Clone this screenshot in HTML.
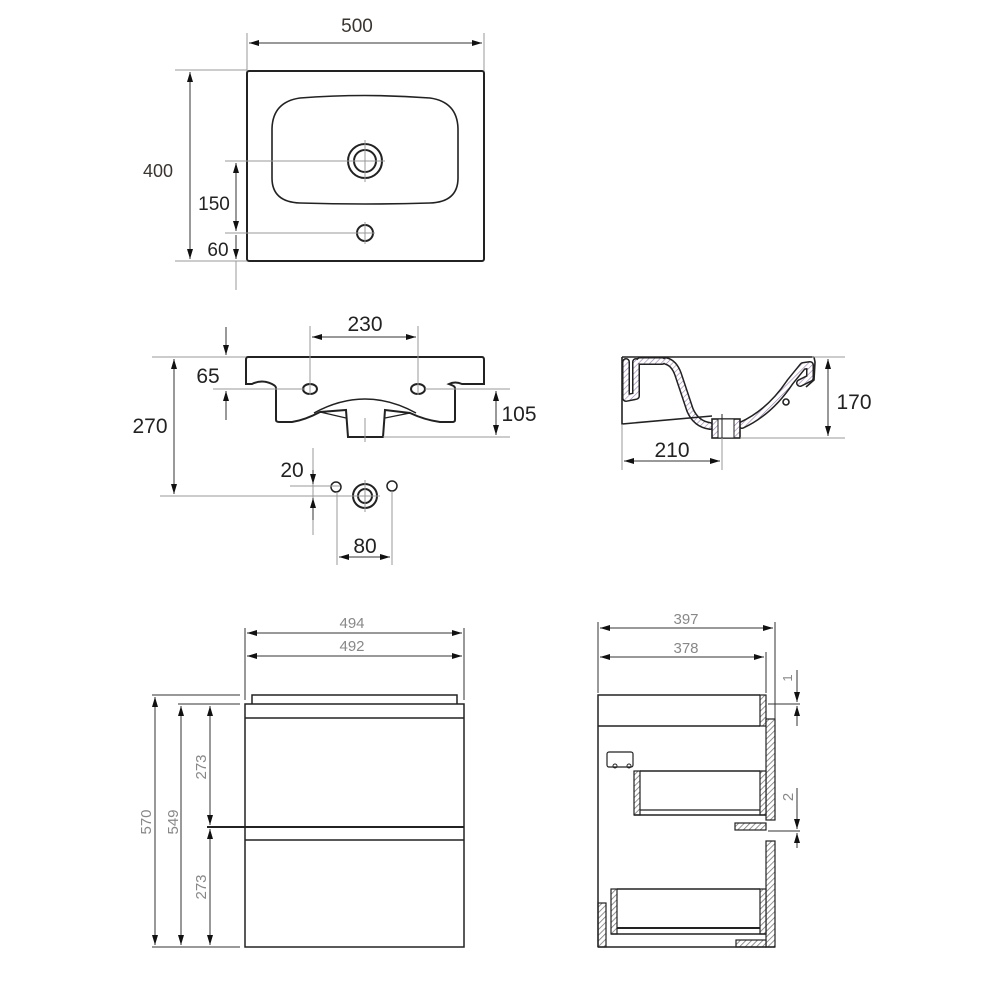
<!DOCTYPE html>
<html><head><meta charset="utf-8"><style>html,body{margin:0;padding:0;background:#fff}svg{display:block}</style></head>
<body>
<svg width="1000" height="1000" viewBox="0 0 1000 1000" xmlns="http://www.w3.org/2000/svg" font-family="Liberation Sans, sans-serif">
<defs>
<marker id="a" viewBox="0 0 10 6" refX="10" refY="3" markerWidth="10" markerHeight="6" orient="auto-start-reverse" markerUnits="userSpaceOnUse"><path d="M0,0L10,3L0,6z" fill="#111"/></marker>
<pattern id="h" width="4" height="4" patternUnits="userSpaceOnUse" patternTransform="rotate(45)"><rect width="4" height="4" fill="#fff"/><line x1="0" y1="0" x2="0" y2="4" stroke="#777" stroke-width="1.6"/></pattern>
<pattern id="hp" width="4" height="4" patternUnits="userSpaceOnUse" patternTransform="rotate(45)"><rect width="4" height="4" fill="#fff"/><line x1="0" y1="0" x2="0" y2="4" stroke="#9a80ae" stroke-width="1.3"/></pattern>
</defs>

<!-- TOP VIEW -->
<g fill="none" stroke="#222" stroke-width="2">
<rect x="247" y="71" width="237" height="190" rx="2"/>
<path d="M300,98 Q365,93 430,98 Q458,102 458,130 L458,178 Q458,202 430,203 Q365,205 300,203 Q272,202 272,178 L272,130 Q272,102 300,98Z" stroke-width="1.6"/>
<circle cx="365" cy="161" r="17"/><circle cx="365" cy="161" r="11"/>
<circle cx="365" cy="233" r="8"/>
</g>
<g stroke="#999" stroke-width="1" fill="none">
<line x1="247" y1="33" x2="247" y2="71"/><line x1="484" y1="33" x2="484" y2="71"/>
<line x1="175" y1="70" x2="247" y2="70"/><line x1="175" y1="261" x2="247" y2="261"/>
<line x1="225" y1="161" x2="385" y2="161"/><line x1="225" y1="233" x2="375" y2="233"/>
<line x1="365" y1="140" x2="365" y2="182"/><line x1="365" y1="222" x2="365" y2="244"/>
<line x1="236" y1="261" x2="236" y2="290"/>
</g>
<g stroke="#333" stroke-width="1">
<line x1="249" y1="43" x2="482" y2="43" marker-start="url(#a)" marker-end="url(#a)"/>
<line x1="190" y1="72" x2="190" y2="259" marker-start="url(#a)" marker-end="url(#a)"/>
<line x1="236" y1="163" x2="236" y2="231" marker-start="url(#a)" marker-end="url(#a)"/>
<line x1="236" y1="235" x2="236" y2="259" marker-end="url(#a)"/>
</g>
<g font-size="19" fill="#222">
<text x="357" y="32" text-anchor="middle" fill="#3a3530">500</text>
<text x="158" y="177" text-anchor="middle" fill="#3a3530" font-size="18">400</text>
<text x="214" y="210" text-anchor="middle">150</text>
<text x="218" y="256" text-anchor="middle">60</text>
</g>

<!-- FRONT VIEW -->
<g fill="none" stroke="#222" stroke-width="2">
<path d="M248,357 L482,357 Q484,357 484,360 L484,384 L462,384 Q455,381 449,384 Q455,386 455,388 L455,420 Q455,422 452,422 L440,422 Q425,420 410,413 L385,410 L383,437 L348,437 L346,410 L320,412 Q305,420 292,422 L280,422 Q276,422 276,420 L276,388 Q276,386 272,384 Q262,379 252,384 L246,384 L246,360 Q246,357 248,357Z"/>
<path d="M314,413 Q365,385 416,413" stroke-width="1.5"/>
<path d="M320,412 L346,418 M410,413 L385,418" stroke-width="1.2"/>
<ellipse cx="310" cy="389" rx="7" ry="5"/><ellipse cx="418" cy="389" rx="7" ry="5"/>
<circle cx="336" cy="487" r="5" stroke-width="1.5"/><circle cx="392" cy="486" r="5" stroke-width="1.5"/>
<circle cx="365" cy="496" r="12"/><circle cx="365" cy="496" r="7"/>
</g>
<g stroke="#999" stroke-width="1">
<line x1="310" y1="326" x2="310" y2="395"/><line x1="418" y1="326" x2="418" y2="395"/>
<line x1="152" y1="357" x2="246" y2="357"/><line x1="213" y1="389" x2="305" y2="389"/>
<line x1="425" y1="389" x2="510" y2="389"/><line x1="383" y1="437" x2="510" y2="437"/>
<line x1="365" y1="418" x2="365" y2="442"/>
<line x1="160" y1="496" x2="380" y2="496"/><line x1="290" y1="486" x2="340" y2="486"/>
<line x1="313" y1="448" x2="313" y2="535"/>
<line x1="337" y1="492" x2="337" y2="565"/><line x1="392" y1="491" x2="392" y2="565"/>
<line x1="365" y1="480" x2="365" y2="512"/>
</g>
<g stroke="#333" stroke-width="1">
<line x1="312" y1="337" x2="416" y2="337" marker-start="url(#a)" marker-end="url(#a)"/>
<line x1="226" y1="327" x2="226" y2="355" marker-end="url(#a)"/>
<line x1="226" y1="420" x2="226" y2="391" marker-end="url(#a)"/>
<line x1="174" y1="359" x2="174" y2="494" marker-start="url(#a)" marker-end="url(#a)"/>
<line x1="496" y1="391" x2="496" y2="435" marker-start="url(#a)" marker-end="url(#a)"/>
<line x1="313" y1="470" x2="313" y2="484" marker-end="url(#a)"/>
<line x1="313" y1="520" x2="313" y2="498" marker-end="url(#a)"/>
<line x1="339" y1="557" x2="390" y2="557" marker-start="url(#a)" marker-end="url(#a)"/>
</g>
<g font-size="21" fill="#222" text-anchor="middle">
<text x="365" y="331">230</text>
<text x="208" y="383">65</text>
<text x="150" y="433">270</text>
<text x="519" y="421">105</text>
<text x="292" y="477">20</text>
<text x="365" y="553">80</text>
</g>

<!-- SECTION VIEW -->
<g fill="none" stroke-linejoin="round" stroke-linecap="round">
<g stroke="#222" stroke-width="8">
<path d="M626,362 L626,398 L636,396 L636,362"/>
<path d="M666,361 Q674,363 678,374 L690,410 Q696,424 710,426"/>
<path d="M742,425 Q770,412 790,382 L803,366 L810,365 L810,378 L800,383"/>
<path d="M640,361 L662,361"/>
</g>
<g stroke="url(#hp)" stroke-width="5">
<path d="M626,362 L626,398 L636,396 L636,362"/>
<path d="M666,361 Q674,363 678,374 L690,410 Q696,424 710,426"/>
<path d="M742,425 Q770,412 790,382 L803,366 L810,365 L810,378 L800,383"/>
<path d="M640,361 L662,361"/>
</g>
</g>
<g fill="none" stroke="#222" stroke-width="1.6">
<line x1="622" y1="357" x2="814" y2="357"/>
<path d="M814,357 L815,362 L814,380 L806,387"/>
<path d="M622,357 L622,424 L712,416"/>
<rect x="712" y="419" width="28" height="19" fill="url(#hp)"/>
<rect x="718" y="419" width="16" height="19" fill="#fff" stroke-width="1"/>
<line x1="722" y1="414" x2="722" y2="442" stroke-width="1"/>
<circle cx="786" cy="402" r="3"/>
</g>
<g stroke="#999" stroke-width="1">
<line x1="812" y1="357" x2="845" y2="357"/><line x1="740" y1="438" x2="845" y2="438"/>
<line x1="622" y1="424" x2="622" y2="470"/><line x1="722" y1="438" x2="722" y2="470"/>
</g>
<g stroke="#333" stroke-width="1">
<line x1="828" y1="359" x2="828" y2="436" marker-start="url(#a)" marker-end="url(#a)"/>
<line x1="624" y1="461" x2="720" y2="461" marker-start="url(#a)" marker-end="url(#a)"/>
</g>
<g font-size="21" fill="#222" text-anchor="middle">
<text x="854" y="409">170</text>
<text x="672" y="457">210</text>
</g>

<!-- CABINET FRONT -->
<g fill="none" stroke="#222" stroke-width="1.5">
<path d="M252,704 L252,695 L457,695 L457,704"/>
<rect x="245" y="704" width="219" height="243"/>
<line x1="245" y1="718" x2="464" y2="718"/>
<line x1="207" y1="827" x2="464" y2="827" stroke-width="2"/>
<line x1="245" y1="840" x2="464" y2="840"/>
</g>
<g stroke="#333" stroke-width="1">
<line x1="245" y1="628" x2="245" y2="700"/><line x1="464" y1="628" x2="464" y2="700"/>
<line x1="152" y1="695" x2="240" y2="695"/><line x1="178" y1="704" x2="240" y2="704"/>
<line x1="152" y1="947" x2="240" y2="947"/>
<line x1="247" y1="633" x2="462" y2="633" marker-start="url(#a)" marker-end="url(#a)"/>
<line x1="247" y1="656" x2="462" y2="656" marker-start="url(#a)" marker-end="url(#a)"/>
<line x1="155" y1="697" x2="155" y2="945" marker-start="url(#a)" marker-end="url(#a)"/>
<line x1="181" y1="706" x2="181" y2="945" marker-start="url(#a)" marker-end="url(#a)"/>
<line x1="210" y1="706" x2="210" y2="825" marker-start="url(#a)" marker-end="url(#a)"/>
<line x1="210" y1="829" x2="210" y2="945" marker-start="url(#a)" marker-end="url(#a)"/>
</g>
<g font-size="15" fill="#888" text-anchor="middle">
<text x="352" y="628">494</text>
<text x="352" y="651">492</text>
<text transform="translate(151,822) rotate(-90)">570</text>
<text transform="translate(178,822) rotate(-90)">549</text>
<text transform="translate(206,767) rotate(-90)">273</text>
<text transform="translate(206,887) rotate(-90)">273</text>
</g>

<!-- CABINET SIDE -->
<g stroke="#222" stroke-width="1.2">
<rect x="760" y="695" width="6" height="31" fill="url(#h)"/>
<rect x="766" y="719" width="9" height="101" fill="url(#h)"/>
<rect x="766" y="841" width="9" height="106" fill="url(#h)"/>
<rect x="634" y="771" width="6" height="44" fill="url(#h)"/>
<rect x="760" y="771" width="6" height="44" fill="url(#h)"/>
<rect x="735" y="823" width="31" height="7" fill="url(#h)"/>
<rect x="611" y="889" width="6" height="45" fill="url(#h)"/>
<rect x="760" y="889" width="6" height="45" fill="url(#h)"/>
<rect x="736" y="940" width="30" height="7" fill="url(#h)"/>
<rect x="598" y="903" width="8" height="44" fill="url(#h)"/>
</g>
<g fill="none" stroke="#222" stroke-width="1.5">
<path d="M598,947 L598,695 L760,695"/>
<line x1="598" y1="726" x2="760" y2="726"/>
<line x1="598" y1="947" x2="775" y2="947"/>
<line x1="640" y1="771" x2="760" y2="771"/>
<line x1="634" y1="815" x2="766" y2="815"/><line x1="640" y1="810" x2="760" y2="810" stroke-width="1.2"/>
<line x1="617" y1="889" x2="760" y2="889"/>
<line x1="611" y1="934" x2="766" y2="934"/><line x1="617" y1="928" x2="760" y2="928" stroke-width="2"/>
<rect x="607" y="752" width="26" height="15" rx="2" stroke-width="1.2"/>
<circle cx="615" cy="766" r="2" stroke-width="1"/><circle cx="629" cy="766" r="2" stroke-width="1"/>
</g>
<g stroke="#333" stroke-width="1">
<line x1="598" y1="622" x2="598" y2="693"/><line x1="775" y1="622" x2="775" y2="720"/><line x1="766" y1="652" x2="766" y2="693"/>
<line x1="600" y1="628" x2="773" y2="628" marker-start="url(#a)" marker-end="url(#a)"/>
<line x1="600" y1="657" x2="764" y2="657" marker-start="url(#a)" marker-end="url(#a)"/>
<line x1="768" y1="704" x2="800" y2="704"/><line x1="768" y1="831" x2="800" y2="831"/>
<line x1="797" y1="670" x2="797" y2="702" marker-end="url(#a)"/>
<line x1="797" y1="726" x2="797" y2="706" marker-end="url(#a)"/>
<line x1="797" y1="788" x2="797" y2="829" marker-end="url(#a)"/>
<line x1="797" y1="848" x2="797" y2="833" marker-end="url(#a)"/>
</g>
<g font-size="15" fill="#888" text-anchor="middle">
<text x="686" y="624">397</text>
<text x="686" y="653">378</text>
<text transform="translate(792,678) rotate(-90)" font-size="13">1</text>
<text transform="translate(793,797) rotate(-90)">2</text>
</g>
</svg>
</body></html>
